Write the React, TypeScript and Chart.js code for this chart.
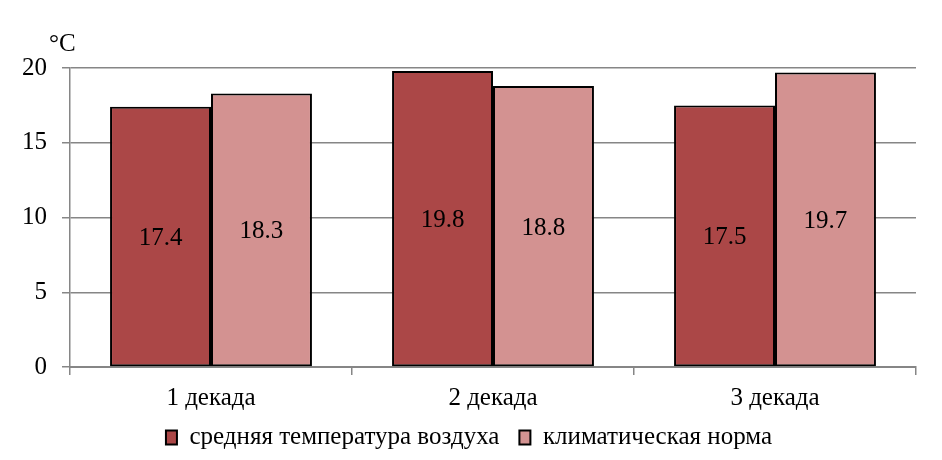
import { useEffect, useRef } from "react";
import { Chart, registerables, Plugin } from "chart.js";

Chart.register(...registerables);

const categories = ["1 декада", "2 декада", "3 декада"];
const avgTemp = [17.4, 19.8, 17.5];
const climateNorm = [18.3, 18.8, 19.7];
const seriesNames = ["средняя температура воздуха", "климатическая норма"];
const unitLabel = "°C";

const FONT = "'Liberation Serif', 'Times New Roman', serif";
const GRID = "#868686";
const FS = 25;

// values drawn in the middle of each bar, plus the unit above the y axis
const barLabels: Plugin<"bar"> = {
    id: "barLabels",
    afterLayout(chart) {
        // the legend sits a bit right of the canvas centre in the original
        const lg: any = chart.legend;
        if (lg) { lg.left += 11; lg.right += 11; }
    },
    afterDatasetsDraw(chart) {
        const { ctx, chartArea } = chart;
        ctx.save();
        ctx.font = `${FS}px ${FONT}`;
        ctx.fillStyle = "#000";
        ctx.textAlign = "center";
        ctx.textBaseline = "middle";
        chart.data.datasets.forEach((ds, i) => {
            chart.getDatasetMeta(i).data.forEach((bar: any, j) => {
                const v = ds.data[j] as number;
                ctx.fillText(v.toFixed(1), bar.x, (bar.y + bar.base) / 2 + 2);
            });
        });
        ctx.textAlign = "left";
        ctx.fillText(unitLabel, chartArea.left - 21, chartArea.top - 24);
        ctx.restore();
    },
};

export default function App() {
    const canvasRef = useRef<HTMLCanvasElement>(null);

    useEffect(() => {
        if (!canvasRef.current) return;
        const chart = new Chart(canvasRef.current, {
            type: "bar",
            data: {
                labels: categories,
                datasets: [
                    {
                        label: seriesNames[0],
                        data: avgTemp,
                        backgroundColor: "#AB4747",
                        borderColor: "#000",
                        borderWidth: 2,
                        borderSkipped: false,
                        categoryPercentage: 0.716,
                        barPercentage: 1,
                    },
                    {
                        label: seriesNames[1],
                        data: climateNorm,
                        backgroundColor: "#D39291",
                        borderColor: "#000",
                        borderWidth: 2,
                        borderSkipped: false,
                        categoryPercentage: 0.716,
                        barPercentage: 1,
                    },
                ],
            },
            options: {
                animation: false,
                responsive: false,
                layout: { padding: { top: 68, right: 26, left: 0, bottom: 0 } },
                plugins: {
                    tooltip: { enabled: false },
                    legend: {
                        position: "bottom",
                        labels: {
                            color: "#000",
                            font: { family: FONT, size: FS },
                            boxWidth: 11,
                            boxHeight: 14,
                            padding: 20,
                        },
                    },
                },
                scales: {
                    x: {
                        afterFit: (s: any) => {
                            s.height = 38;
                            // keep the descenders of the labels from being clipped
                            s._computeLabelArea = () => undefined;
                        },
                        border: { color: GRID, width: 2 },
                        grid: { offset: true, drawOnChartArea: false, color: GRID, lineWidth: 1.5, tickLength: 8 },
                        ticks: { color: "#000", font: { family: FONT, size: FS }, padding: 8 },
                    },
                    y: {
                        min: 0,
                        max: 20,
                        afterFit: (s: any) => { s.width = 70; },
                        border: { color: GRID, width: 1.5 },
                        grid: { color: GRID, lineWidth: 1.5, tickLength: 8 },
                        ticks: { stepSize: 5, color: "#000", font: { family: FONT, size: FS }, padding: 15 },
                    },
                },
            },
            plugins: [barLabels],
        });
        return () => chart.destroy();
    }, []);

    return (
        <div style={{ position: "absolute", left: 0, top: 0, width: 942, height: 460, background: "#fff" }}>
            <canvas ref={canvasRef} width={942} height={460} />
        </div>
    );
}
